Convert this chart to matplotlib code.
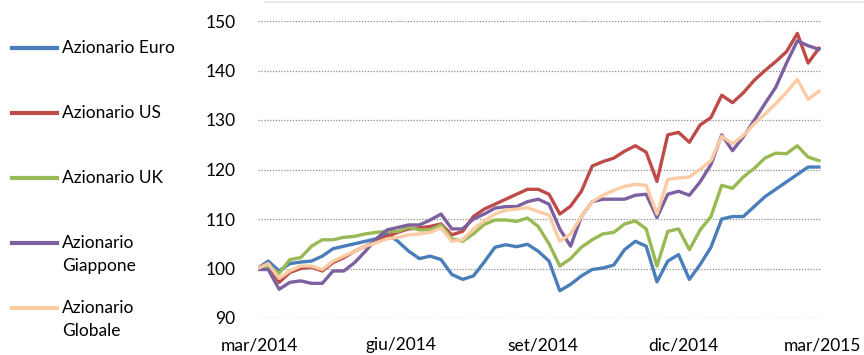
import pandas as pd
import matplotlib
matplotlib.use('Agg')
import matplotlib.pyplot as plt
from matplotlib.lines import Line2D

# weekly index levels (base 100), Feb 2014 - Feb 2015
dates = pd.date_range('2014-02-28', periods=53, freq='7D')

euro = [100.0, 101.5, 99.5, 101.0, 101.3, 101.5, 102.5, 104.0, 104.5, 105.0,
        105.5, 106.0, 107.0, 105.5, 103.5, 102.0, 102.5, 101.8, 98.8, 97.8,
        98.5, 101.3, 104.3, 104.8, 104.4, 104.9, 103.5, 101.5, 95.5, 96.8,
        98.5, 99.8, 100.1, 100.7, 103.8, 105.5, 104.5, 97.3, 101.5, 102.8,
        97.8, 100.8, 104.3, 110.0, 110.5, 110.5, 112.5, 114.5, 116.0, 117.5,
        119.0, 120.5, 120.5]

us = [100.0, 101.0, 97.2, 99.2, 100.0, 100.3, 99.5, 101.2, 102.2, 103.5,
      104.5, 105.5, 106.5, 107.3, 108.0, 108.2, 108.5, 109.0, 106.8, 107.5,
      110.5, 112.0, 113.0, 114.0, 115.0, 116.0, 116.0, 115.0, 111.0, 112.6,
      115.6, 120.7, 121.6, 122.3, 123.7, 124.8, 123.5, 117.6, 127.0, 127.5,
      125.5, 129.0, 130.5, 135.0, 133.5, 135.5, 138.0, 140.0, 141.8, 143.8,
      147.5, 141.5, 144.5]

uk = [100.0, 100.5, 99.0, 101.8, 102.2, 104.5, 105.8, 105.8, 106.3, 106.5,
      107.0, 107.3, 107.5, 107.5, 108.3, 107.8, 107.8, 108.8, 106.0, 105.5,
      107.0, 108.9, 109.8, 109.8, 109.5, 110.2, 108.5, 105.0, 100.5, 102.0,
      104.3, 105.8, 107.0, 107.3, 109.0, 109.6, 108.0, 100.5, 107.5, 108.0,
      103.8, 107.8, 110.5, 116.8, 116.2, 118.5, 120.2, 122.3, 123.3, 123.2,
      124.8, 122.5, 121.8]

giappone = [99.8, 99.8, 95.8, 97.2, 97.5, 97.0, 97.0, 99.5, 99.5, 101.2,
            103.5, 106.0, 107.8, 108.3, 108.8, 108.8, 109.8, 111.0, 108.0, 108.0,
            110.0, 111.0, 112.2, 112.5, 112.5, 113.5, 114.0, 113.0, 108.0, 104.5,
            110.5, 113.5, 114.0, 114.0, 114.0, 114.8, 115.0, 110.3, 115.0, 115.6,
            114.8, 117.5, 121.0, 127.0, 123.8, 126.6, 129.9, 133.3, 136.6, 141.5,
            146.0, 145.0, 144.3]

globale = [100.0, 101.0, 98.0, 99.5, 100.5, 100.5, 99.8, 101.5, 102.5, 103.5,
           104.5, 105.2, 106.0, 106.3, 106.8, 107.0, 107.3, 108.2, 105.5, 105.8,
           108.0, 109.6, 111.0, 111.8, 112.0, 112.3, 111.5, 110.8, 105.5, 107.0,
           110.5, 113.5, 114.8, 115.8, 116.6, 117.0, 116.8, 111.0, 118.0, 118.3,
           118.5, 120.0, 121.8, 126.7, 125.2, 126.9, 129.2, 131.2, 133.3, 135.6,
           138.2, 134.2, 135.8]

labels = ['Azionario Euro', 'Azionario US', 'Azionario UK',
          'Azionario\nGiappone', 'Azionario\nGlobale']
colors = ['#4A7EBB', '#BE4B48', '#98B954', '#7D60A0', '#FBCBA3']
series = [euro, us, uk, giappone, globale]

tick_dates = pd.to_datetime(['2014-03-01', '2014-06-01', '2014-09-01',
                             '2014-12-01', '2015-03-01'])
tick_labels = ['mar/2014', 'giu/2014', 'set/2014', 'dic/2014', 'mar/2015']

plt.rcParams['font.family'] = ['Lato', 'DejaVu Sans']

W, H = 864, 355
fig = plt.figure(figsize=(W / 100, H / 100), dpi=100)
ax = fig.add_axes([257.5 / W, 1 - 318 / H, (822 - 257.5) / W, (318 - 21) / H])

for vals, c in zip(series, colors):
    ax.plot(dates, vals, color=c, lw=2.4, solid_joinstyle='round')

ax.set_ylim(90, 150)
ax.set_yticks(range(90, 151, 10))
ax.set_xlim(pd.Timestamp('2014-02-28'), pd.Timestamp('2015-03-01'))
ax.set_xticks(tick_dates)
ax.set_xticklabels(tick_labels)
ax.grid(axis='y', color='#8C8C8C', linestyle=(0, (1, 1.3)), lw=0.9)
ax.set_axisbelow(True)
for s in ax.spines.values():
    s.set_visible(False)
ax.tick_params(length=0, labelsize=12.5, colors='#000000')
ax.tick_params(axis='y', pad=16)
ax.tick_params(axis='x', pad=14)

# legend drawn on the left side of the figure
leg_y = [48, 113, 178, 243, 308]
for lab, c, y in zip(labels, colors, leg_y):
    fig.add_artist(Line2D([12 / W, 57 / W], [1 - y / H, 1 - y / H],
                          color=c, lw=3.0, transform=fig.transFigure))
    fig.text(62 / W, 1 - (y - 8) / H, lab, fontsize=12.5, va='top', ha='left',
             linespacing=1.55)

# thin frame line along the top
fig.add_artist(Line2D([265 / W, 1.0], [1 - 1.5 / H, 1 - 1.5 / H],
                      color='#E3E3E3', lw=1.2, transform=fig.transFigure))

fig.savefig('out.png', dpi=100)
